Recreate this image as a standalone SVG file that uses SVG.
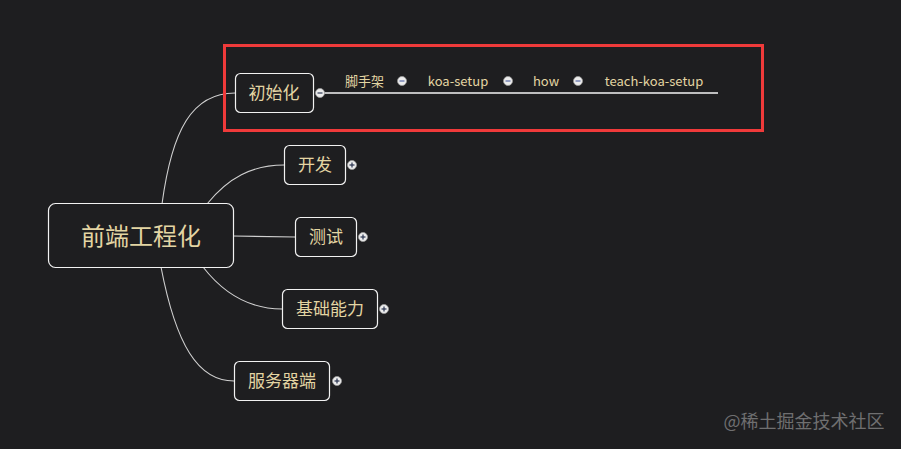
<svg xmlns="http://www.w3.org/2000/svg" width="901" height="449" viewBox="0 0 901 449">
<style>
.bg{fill:#1e1e20}
.box{fill:#1e1e20;stroke:#f2f2f2;stroke-width:1.2}
.t{font-family:"Noto Sans CJK SC","Liberation Sans",sans-serif;fill:#e3d5a3;text-anchor:middle}
.c{fill:none;stroke:#d0d0d0;stroke-width:1.1}
.tog{fill:#ececec;stroke:#9a9a9a;stroke-width:0.8}
.sign{stroke:#2a3550;stroke-width:1.2}
.mini{stroke:#5a6aa8;stroke-width:1.2}
</style>
<rect class="bg" width="901" height="449"/>
<g id="connectors">
<path class="c" d="M162,204 C172,130 192,93 235,93"/>
<path class="c" d="M207,204 C228,178 252,165 284,165"/>
<path class="c" d="M233,236 L295,237"/>
<path class="c" d="M203,267 C224,294 250,309 282,309"/>
<path class="c" d="M161,267 C176,345 198,381 234,381"/>
<path fill="none" stroke="#f5f5f5" stroke-width="1.3" d="M320,93 L718,93"/>
</g>
<g id="root">
<rect class="box" x="48.5" y="203.5" width="185" height="64" rx="7"/>
<text class="t" x="141" y="245" font-size="24">前端工程化</text>
</g>
<g id="n-init">
<rect class="box" x="235.5" y="73.5" width="78" height="39" rx="5"/>
<text class="t" x="274" y="99" font-size="17">初始化</text>
<circle class="tog" cx="320" cy="93" r="4.5"/>
<line class="sign" x1="317.5" y1="93" x2="322.5" y2="93"/>
</g>
<g id="n-scaffold">
<text class="t" x="364.5" y="86" font-size="13">脚手架</text>
<circle class="tog" cx="402" cy="81" r="4.5"/>
<line class="mini" x1="399.5" y1="81" x2="404.5" y2="81"/>
</g>
<g id="n-koa">
<text class="t" x="458" y="86" font-size="13">koa-setup</text>
<circle class="tog" cx="508" cy="81" r="4.5"/>
<line class="mini" x1="505.5" y1="81" x2="510.5" y2="81"/>
</g>
<g id="n-how">
<text class="t" x="546" y="86" font-size="13">how</text>
<circle class="tog" cx="578" cy="81" r="4.5"/>
<line class="mini" x1="575.5" y1="81" x2="580.5" y2="81"/>
</g>
<g id="n-teach">
<text class="t" x="654" y="86" font-size="13">teach-koa-setup</text>
</g>
<g id="n-dev">
<rect class="box" x="284.5" y="145.5" width="61" height="39" rx="5"/>
<text class="t" x="315" y="171" font-size="17">开发</text>
<circle class="tog" cx="352" cy="165" r="4.5"/>
<line class="sign" x1="349.5" y1="165" x2="354.5" y2="165"/>
<line class="sign" x1="352" y1="162.5" x2="352" y2="167.5"/>
</g>
<g id="n-test">
<rect class="box" x="295.5" y="217.5" width="61" height="39" rx="5"/>
<text class="t" x="326" y="243" font-size="17">测试</text>
<circle class="tog" cx="363" cy="237" r="4.5"/>
<line class="sign" x1="360.5" y1="237" x2="365.5" y2="237"/>
<line class="sign" x1="363" y1="234.5" x2="363" y2="239.5"/>
</g>
<g id="n-base">
<rect class="box" x="282.5" y="289.5" width="95" height="39" rx="5"/>
<text class="t" x="330" y="315" font-size="17">基础能力</text>
<circle class="tog" cx="384" cy="309" r="4.5"/>
<line class="sign" x1="381.5" y1="309" x2="386.5" y2="309"/>
<line class="sign" x1="384" y1="306.5" x2="384" y2="311.5"/>
</g>
<g id="n-server">
<rect class="box" x="234.5" y="361.5" width="95" height="39" rx="5"/>
<text class="t" x="282" y="387" font-size="17">服务器端</text>
<circle class="tog" cx="337" cy="381" r="4.5"/>
<line class="sign" x1="334.5" y1="381" x2="339.5" y2="381"/>
<line class="sign" x1="337" y1="378.5" x2="337" y2="383.5"/>
</g>
<rect x="224.5" y="45.5" width="538" height="85" fill="none" stroke="#f03a3a" stroke-width="3"/>
<text x="804" y="428" font-family="Noto Sans CJK SC,Liberation Sans,sans-serif" font-size="18" fill="#6f6f70" text-anchor="middle">@稀土掘金技术社区</text>
</svg>
